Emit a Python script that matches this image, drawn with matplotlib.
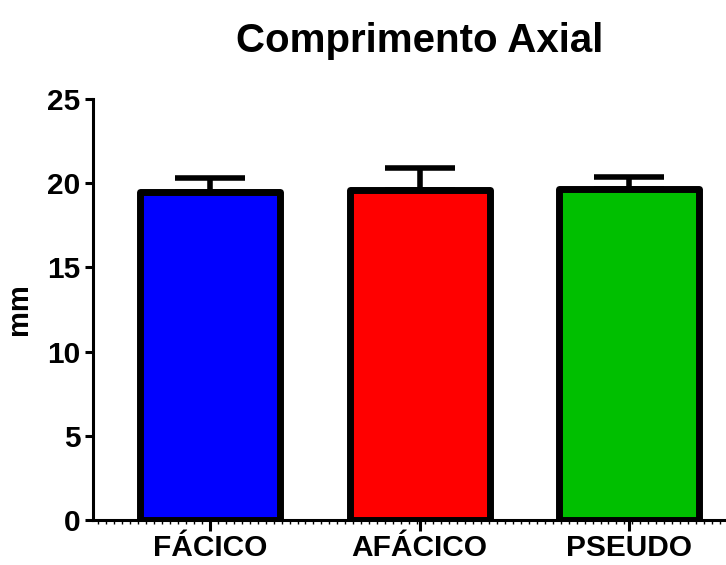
import numpy as np
import matplotlib.pyplot as plt
from matplotlib.ticker import MultipleLocator

groups = ['FÁCICO', 'AFÁCICO', 'PSEUDO']
means = [19.5, 19.6, 19.65]
sem_up = [0.8, 1.3, 0.7]
colors = ['#0000FF', '#FF0000', '#00BF00']

plt.rcParams['font.family'] = ['Liberation Sans', 'DejaVu Sans']
plt.rcParams['font.weight'] = 'bold'

fig = plt.figure(figsize=(7.26, 5.65), dpi=100)
ax = fig.add_axes([0.128, 0.0796, 0.872, 0.745])

x = np.arange(len(groups))
ax.errorbar(x, means, yerr=[[0] * len(means), sem_up], fmt='none',
            ecolor='black', elinewidth=4, capsize=25, capthick=4, zorder=1)
bars = ax.bar(x, means, width=0.667, color=colors, edgecolor='black',
              linewidth=5, zorder=2)
for b in bars:
    b.set_joinstyle('round')

ax.set_xlim(-0.557, 2.46)
ax.set_ylim(0, 25)
ax.set_yticks([0, 5, 10, 15, 20, 25])
ax.set_xticks(x)
ax.set_xticklabels(groups)
ax.xaxis.set_minor_locator(MultipleLocator(0.038))

for side in ['top', 'right']:
    ax.spines[side].set_visible(False)
for side in ['left', 'bottom']:
    ax.spines[side].set_linewidth(2.2)
ax.spines['bottom'].set_clip_on(False)

ax.tick_params(axis='y', which='major', length=6, width=2.2, labelsize=21.5, pad=3)
ax.tick_params(axis='x', which='major', length=8, width=2.2, labelsize=21.5, pad=2)
ax.tick_params(axis='x', which='minor', length=3, width=1)

ax.set_ylabel('mm', fontsize=21, fontweight='bold', labelpad=10)
fig.text(0.578, 0.928, 'Comprimento Axial', ha='center', va='center',
         fontsize=29, fontweight='bold')

fig.savefig('out.png', dpi=100)
